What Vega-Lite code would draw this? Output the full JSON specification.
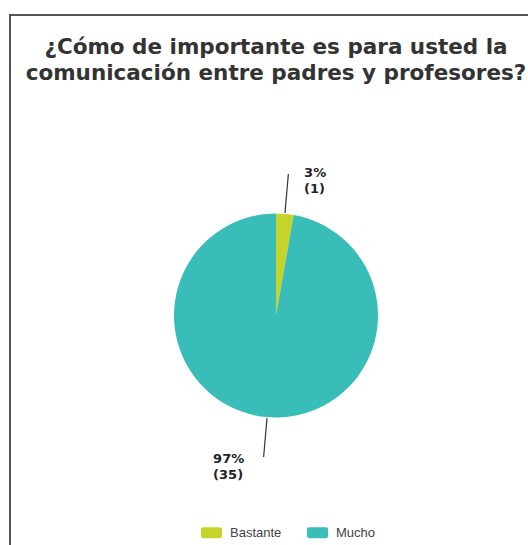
{
  "$schema": "https://vega.github.io/schema/vega-lite/v6.json",
  "autosize": "none",
  "width": 532,
  "height": 601,
  "padding": {"left": 10, "top": 15, "right": 0, "bottom": 0},
  "background": "white",
  "config": {
    "view": {"stroke": "#555555", "strokeWidth": 2},
    "legend": {
      "orient": "none",
      "legendX": 191,
      "legendY": 507,
      "direction": "horizontal",
      "padding": 0,
      "symbolType": "M-0.8,-0.52 L0.8,-0.52 A0.2,0.2 0 0 1 1,-0.32 L1,0.32 A0.2,0.2 0 0 1 0.8,0.52 L-0.8,0.52 A0.2,0.2 0 0 1 -1,0.32 L-1,-0.32 A0.2,0.2 0 0 1 -0.8,-0.52 Z",
      "symbolSize": 441,
      "symbolStrokeWidth": 0,
      "labelFont": "Liberation Sans",
      "labelFontSize": 13,
      "labelColor": "#444444",
      "labelOffset": 8,
      "columnPadding": 25
    }
  },
  "title": {
    "text": ["¿Cómo de importante es para usted la", "comunicación entre padres y profesores?"],
    "font": "DejaVu Sans",
    "fontSize": 21.5,
    "fontWeight": "bold",
    "color": "#333333",
    "anchor": "middle",
    "frame": "group",
    "baseline": "bottom",
    "offset": -68,
    "dy": 24,
    "lineHeight": 26
  },
  "data": {
    "values": [
      {"respuesta": "Bastante", "n": 1},
      {"respuesta": "Mucho", "n": 35}
    ]
  },
  "transform": [
    {"joinaggregate": [{"op": "sum", "field": "n", "as": "total"}]},
    {"window": [{"op": "sum", "field": "n", "as": "cum"}], "sort": [{"field": "respuesta"}], "frame": [null, 0]},
    {"calculate": "datum.cum - datum.n / 2", "as": "mid"},
    {"calculate": "[format(datum.n / datum.total, '.0%'), '(' + datum.n + ')']", "as": "label"}
  ],
  "layer": [
    {
      "transform": [{"aggregate": [{"op": "count", "as": "filas"}]}],
      "mark": {"type": "rect", "filled": false, "stroke": "#555555", "strokeWidth": 2},
      "encoding": {}
    },
    {
      "mark": {"type": "arc", "outerRadius": 102},
      "encoding": {
        "theta": {"field": "n", "type": "quantitative", "stack": true},
        "color": {
          "field": "respuesta",
          "type": "nominal",
          "scale": {"range": ["#c6d32b", "#38bdb8"]},
          "legend": {"title": null}
        }
      }
    },
    {
      "mark": {"type": "arc", "innerRadius": 103, "outerRadius": 142, "filled": false, "stroke": "#333333", "strokeWidth": 1.2},
      "encoding": {
        "theta": {"field": "mid", "type": "quantitative"},
        "theta2": {"field": "mid"}
      }
    },
    {
      "transform": [{"filter": "datum.respuesta === 'Bastante'"}],
      "mark": {"type": "text", "radius": 139, "dx": 16, "align": "left", "baseline": "alphabetic", "font": "DejaVu Sans", "fontWeight": "bold", "fontSize": 13, "lineHeight": 16, "color": "#222222"},
      "encoding": {
        "theta": {"field": "mid", "type": "quantitative"},
        "text": {"field": "label"}
      }
    },
    {
      "transform": [{"filter": "datum.respuesta === 'Mucho'"}],
      "mark": {"type": "text", "radius": 148, "dx": -50, "align": "left", "baseline": "alphabetic", "font": "DejaVu Sans", "fontWeight": "bold", "fontSize": 13, "lineHeight": 16, "color": "#222222"},
      "encoding": {
        "theta": {"field": "mid", "type": "quantitative"},
        "text": {"field": "label"}
      }
    }
  ]
}
